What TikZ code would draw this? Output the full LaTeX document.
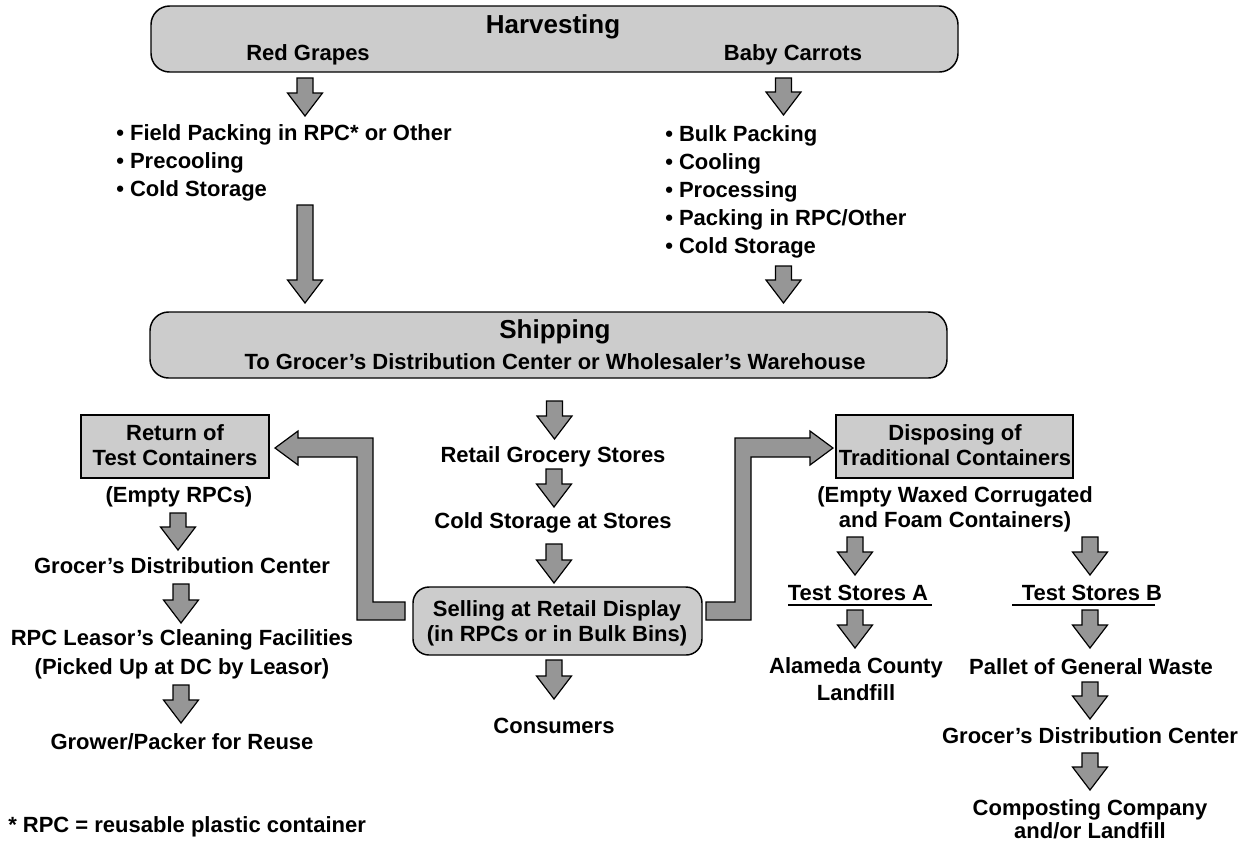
\documentclass[tikz,border=0pt]{standalone}
\usepackage{fontspec}
\setmainfont{Liberation Sans}
\usepackage{xcolor}
\definecolor{boxgray}{gray}{0.8}
\definecolor{arrowgray}{gray}{0.59}

\tikzset{
  box/.style={draw=black, line width=1.1pt, fill=boxgray},
  roundbox/.style={box, rounded corners=14pt},
  txt/.style={font=\fontsize{16.5}{18.5}\selectfont\bfseries, inner sep=0pt, align=center},
  listtxt/.style={font=\fontsize{16.5}{21}\selectfont\bfseries, inner sep=0pt, align=left, anchor=west},
  titletxt/.style={font=\fontsize{19.5}{22}\selectfont\bfseries, inner sep=0pt},
  fatarrow/.style={draw=black, line width=0.9pt, fill=arrowgray, line join=miter},
}
% block arrow pointing down: x, top, tip
\newcommand{\fatdown}[3]{%
  \draw[fatarrow] (#1-8,#2) -- (#1+8,#2) -- (#1+8,#3-23) -- (#1+17.5,#3-23)
    -- (#1,#3) -- (#1-17.5,#3-23) -- (#1-8,#3-23) -- cycle;}

\begin{document}
\begin{tikzpicture}[x=0.75pt,y=-0.75pt]
    \useasboundingbox (0,0) rectangle (1242,844);

    % harvesting
    \draw[roundbox] (151,6) rectangle (958,72);
    \node[titletxt] (harv) at (553,27) {Harvesting};
    \node[txt] (grapes) at (308,55) {Red Grapes};
    \node[txt] (carrots) at (793,55) {Baby Carrots};

    \fatdown{305}{78}{116}
    \fatdown{783.5}{78}{115}
    \node[listtxt] (grapelist) at (116,163) {• Field Packing in RPC* or Other\\• Precooling\\• Cold Storage};
    \node[listtxt] (carrotlist) at (665,192) {• Bulk Packing\\• Cooling\\• Processing\\• Packing in RPC/Other\\• Cold Storage};
    \fatdown{305}{205}{303}
    \fatdown{783.5}{266}{303}

    % shipping
    \draw[roundbox] (150,312) rectangle (947,378);
    \node[titletxt] (ship) at (555,332) {Shipping};
    \node[txt] (shipto) at (555,362) {To Grocer’s Distribution Center or Wholesaler’s Warehouse};

    % stores
    \fatdown{554.5}{401}{439}
    \node[txt] (retail) at (553,457) {Retail Grocery Stores};
    \fatdown{554}{469}{507}
    \node[txt] (coldst) at (553,523) {Cold Storage at Stores};
    \fatdown{554}{544}{583}
    \draw[roundbox, rounded corners=12pt] (413,587) rectangle (702,655);
    \node[txt] (sell) at (557,623) {Selling at Retail Display\\(in RPCs or in Bulk Bins)};
    \fatdown{554}{660}{699}
    \node[txt] (consumers) at (554,726) {Consumers};

    % return of test containers
    \draw[fatarrow] (405,602) -- (405,620) -- (357,620) -- (357,457) -- (298,457) -- (298,465)
        -- (275,448) -- (298,431) -- (298,438) -- (373,438) -- (373,602) -- cycle;
    \draw[box] (81,415) rectangle (269,478);
    \node[txt] (ret) at (175,445) {Return of\\Test Containers};
    \node[txt] (emptyrpc) at (179,497) {(Empty RPCs)};
    \fatdown{178}{513}{550}
    \node[txt] (gdcleft) at (182,566) {Grocer’s Distribution Center};
    \fatdown{181}{584}{623}
    \node[txt] (leasor) at (182,654) {RPC Leasor’s Cleaning Facilities\\[3pt](Picked Up at DC by Leasor)};
    \fatdown{181}{685}{723}
    \node[txt] (grower) at (182,742) {Grower/Packer for Reuse};
    \node[txt, anchor=west] (footnote) at (8,827) {* RPC = reusable plastic container};

    % disposing of traditional containers
    \draw[fatarrow] (706,602) -- (706,620) -- (751,620) -- (751,457) -- (810,457) -- (810,465)
        -- (833,448) -- (810,431) -- (810,438) -- (735,438) -- (735,602) -- cycle;
    \draw[box] (836,415) rectangle (1073,478);
    \node[txt] (disp) at (955,445) {Disposing of\\Traditional Containers};
    \node[txt] (waxed) at (955,509) {(Empty Waxed Corrugated\\and Foam Containers)};
    \fatdown{855}{537}{575}
    \fatdown{1090}{537}{575}
    \node[txt] (tsa) at (858,593) {Test Stores A};
    \draw[line width=0.9pt] (788,605) -- (932,605);
    \node[txt] (tsb) at (1092,593) {Test Stores B};
    \draw[line width=0.9pt] (1012,605) -- (1155,605);
    \fatdown{855}{610}{648}
    \fatdown{1090}{610}{648}
    \node[txt] (alameda) at (856,679) {Alameda County\\[2pt]Landfill};
    \node[txt] (pallet) at (1091,667) {Pallet of General Waste};
    \fatdown{1090}{682}{719}
    \node[txt] (gdcright) at (1090,736) {Grocer’s Distribution Center};
    \fatdown{1090}{753}{790}
    \node[txt] (compost) at (1090,819) {Composting Company\\[-1pt]and/or Landfill};
\end{tikzpicture}
\end{document}
